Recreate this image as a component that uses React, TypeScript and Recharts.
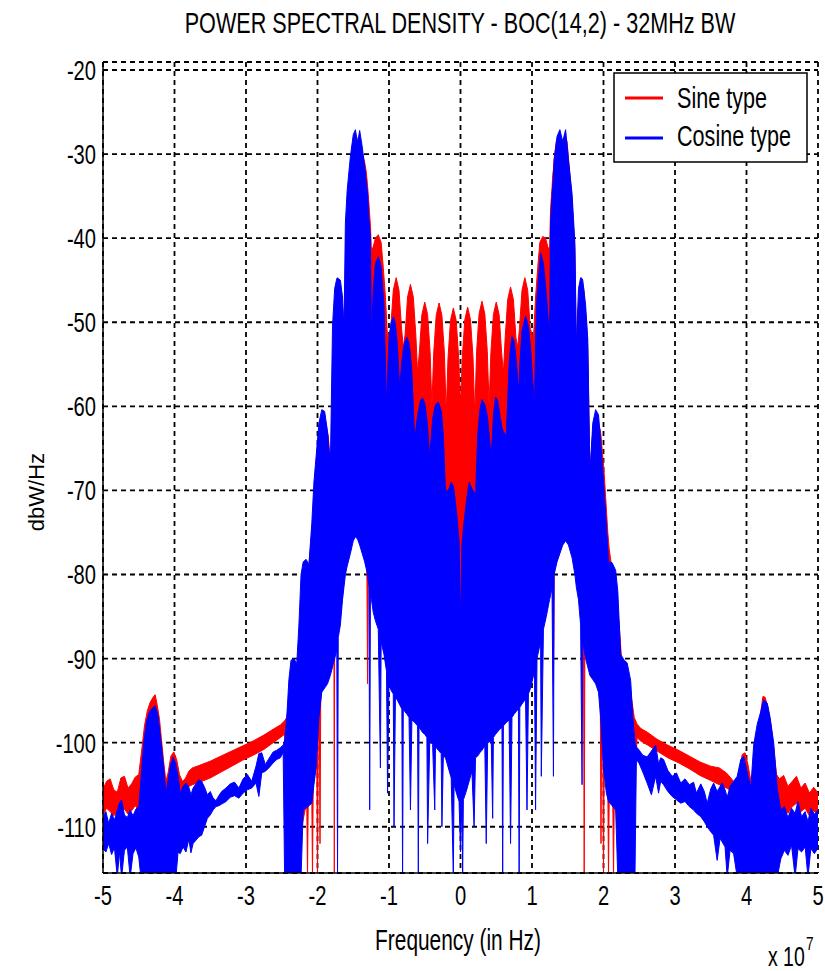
import React from 'react';
import { ComposedChart, Area, XAxis, YAxis, CartesianGrid } from 'recharts';

const FONT = "'Liberation Sans', Arial, Helvetica, sans-serif";
const SX = 0.72;

const titleText = 'POWER SPECTRAL DENSITY - BOC(14,2) - 32MHz BW';
const xLabel = 'Frequency (in Hz)';
const yLabel = 'dbW/Hz';
const xTicks = [-5, -4, -3, -2, -1, 0, 1, 2, 3, 4, 5];
const yTicks = [-110, -100, -90, -80, -70, -60, -50, -40, -30, -20];
const seriesNames = ['Sine type', 'Cosine type'];
const seriesColors = ['#ff0000', '#0000ff'];

// rows: [frequency (x1e7 Hz), upper envelope dB, lower envelope dB]
const sinePsd = [
  [-5.0, -105.5, -108.6], [-4.95, -104.6, -107.8], [-4.9, -104.3, -108.2], [-4.85, -105.6, -108.7],
  [-4.8, -105.9, -108.3], [-4.75, -104.2, -107.6], [-4.7, -104.0, -107.9], [-4.65, -105.4, -108.5],
  [-4.6, -104.9, -108.1], [-4.55, -104.1, -107.5], [-4.5, -103.8, -108.0], [-4.46, -101.0, -110],
  [-4.42, -98.0, -112], [-4.38, -96.2, -112], [-4.34, -95.2, -112], [-4.3, -94.6, -112],
  [-4.27, -94.3, -112], [-4.24, -95.6, -112], [-4.21, -97.2, -112], [-4.18, -99.8, -112],
  [-4.15, -102.4, -112], [-4.12, -104.6, -110], [-4.09, -103.6, -108], [-4.05, -101.6, -108],
  [-4.01, -101.1, -108], [-3.97, -102.0, -107], [-3.93, -103.8, -106.2], [-3.89, -104.6, -106.0],
  [-3.85, -104.3, -105.6], [-3.8, -103.4, -105.2], [-3.75, -103.0, -105.0], [-3.65, -102.7, -104.7],
  [-3.5, -102.2, -104.2], [-3.35, -101.6, -103.5], [-3.2, -101.0, -102.8], [-3.05, -100.4, -102.1],
  [-2.9, -99.8, -101.5], [-2.75, -99.1, -100.8], [-2.62, -98.4, -100.0], [-2.52, -97.9, -99.4],
  [-2.46, -97.4, -99.0], [-2.43, -97.0, -108], [-2.38, -94.0, -112], [-2.3, -91.5, -112],
  [-2.22, -87.0, -110], [-2.15, -82.0, -107], [-2.14, -81.0, -116], [-2.13, -80.0, -107],
  [-2.08, -75.0, -106], [-2.07, -74.0, -116], [-2.06, -73.0, -105], [-2.01, -67.0, -102],
  [-2.0, -66.0, -116], [-1.99, -65.0, -100], [-1.975, -63.8, -96], [-1.965, -63.2, -112],
  [-1.955, -62.6, -95], [-1.94, -62.0, -93], [-1.9, -61.5, -92.5], [-1.85, -63.5, -92],
  [-1.81, -68.0, -91], [-1.78, -53.0, -90], [-1.77, -51.0, -89.5], [-1.765, -50.0, -116],
  [-1.76, -49.0, -89], [-1.72, -46.0, -87], [-1.68, -46.5, -85], [-1.645, -48.5, -82],
  [-1.625, -52.0, -80.5], [-1.6, -39.5, -79], [-1.57, -35.5, -78], [-1.54, -31.5, -76.5],
  [-1.51, -28.8, -75], [-1.48, -28.0, -74.5], [-1.455, -29.0, -74.5], [-1.43, -28.0, -75],
  [-1.4, -28.8, -75.5], [-1.37, -30.0, -76.5], [-1.34, -31.0, -77.5], [-1.32, -32.0, -78],
  [-1.31, -32.8, -78.5], [-1.3, -33.8, -93], [-1.29, -34.8, -79.5], [-1.28, -36.0, -80],
  [-1.26, -38.5, -81.5], [-1.245, -41.5, -82], [-1.22, -41.0, -83.5], [-1.19, -40.0, -84.5],
  [-1.15, -39.6, -85.5], [-1.11, -40.5, -87], [-1.08, -43.5, -88], [-1.05, -47.0, -89],
  [-1.02, -52.0, -90],
  [-0.975, -50.7, -92], [-0.94, -46.2, -92], [-0.9, -44.7, -92], [-0.86, -46.2, -92],
  [-0.825, -50.7, -92], [-0.8, -53.0, -91], [-0.775, -51.5, -91], [-0.74, -47.0, -90],
  [-0.7, -45.5, -90], [-0.66, -47.0, -89], [-0.625, -51.5, -88.5], [-0.6, -56.0, -88],
  [-0.575, -53.6, -87.5], [-0.54, -49.1, -87], [-0.5, -47.6, -86], [-0.46, -49.1, -85.5],
  [-0.425, -53.6, -85], [-0.4, -60.0, -84.5], [-0.375, -53.7, -84], [-0.34, -49.2, -83.5],
  [-0.3, -47.7, -83], [-0.26, -49.2, -82.5], [-0.225, -53.7, -82], [-0.2, -61.0, -81.5],
  [-0.175, -54.3, -81], [-0.14, -49.8, -80.5], [-0.1, -48.3, -80], [-0.06, -49.8, -79.5],
  [-0.025, -54.3, -80], [0.0, -60.0, -88], [0.025, -54.2, -80], [0.06, -49.7, -79.5],
  [0.1, -48.2, -80], [0.14, -49.7, -80.5], [0.175, -54.2, -81], [0.2, -61.0, -81.5],
  [0.225, -53.5, -82], [0.26, -49.0, -82.5], [0.3, -47.5, -83], [0.34, -49.0, -83.5],
  [0.375, -53.5, -84], [0.4, -60.0, -84.5], [0.425, -53.6, -85], [0.46, -49.1, -85.5],
  [0.5, -47.6, -86], [0.54, -49.1, -87], [0.575, -53.6, -87.5], [0.6, -56.0, -88],
  [0.625, -51.8, -88.5], [0.66, -47.3, -89], [0.7, -45.8, -90], [0.74, -47.3, -90],
  [0.775, -51.8, -91], [0.8, -53.0, -91], [0.825, -50.7, -92], [0.86, -46.2, -92],
  [0.9, -44.7, -92], [0.94, -46.2, -92], [0.975, -50.7, -92],
  [1.02, -52.0, -90], [1.05, -47.0, -89], [1.08, -43.5, -88], [1.11, -40.5, -87],
  [1.15, -39.8, -85.5], [1.19, -40.0, -84.5], [1.22, -41.0, -83.5], [1.245, -41.5, -82],
  [1.26, -36.5, -81.5], [1.28, -34.0, -80], [1.29, -32.5, -79.5], [1.3, -31.8, -93],
  [1.31, -30.5, -79], [1.34, -28.5, -77.5], [1.37, -28.0, -76.5], [1.4, -28.3, -75.5],
  [1.43, -28.8, -75], [1.46, -28.0, -74.5], [1.49, -28.5, -74.5], [1.52, -31.5, -75],
  [1.56, -35.5, -76.5], [1.6, -41.5, -78], [1.62, -53.0, -79], [1.645, -48.5, -80.5],
  [1.68, -45.5, -82], [1.72, -45.8, -85], [1.73, -46.5, -116], [1.74, -48.0, -86],
  [1.76, -50.0, -88], [1.78, -53.0, -89], [1.81, -68.0, -90], [1.85, -63.0, -91],
  [1.89, -61.3, -91.5], [1.94, -62.5, -93], [1.955, -62.8, -95], [1.965, -63.5, -112],
  [1.975, -64.5, -96], [1.99, -66.0, -100], [2.0, -67.0, -116], [2.01, -68.0, -102],
  [2.06, -75.0, -105], [2.07, -76.0, -116], [2.08, -77.0, -106], [2.13, -80.0, -107],
  [2.14, -80.0, -116], [2.15, -80.5, -107], [2.22, -86.0, -110], [2.26, -91.0, -112],
  [2.33, -91.5, -112], [2.38, -94.0, -110], [2.43, -97.0, -106],
  [2.47, -97.8, -99.4], [2.52, -98.3, -99.8], [2.62, -98.8, -100.3], [2.75, -99.6, -101.0],
  [2.9, -100.3, -101.8], [3.05, -100.9, -102.4], [3.2, -101.6, -103.1], [3.35, -102.3, -103.9],
  [3.5, -102.8, -104.5], [3.62, -103.0, -105.0], [3.72, -103.6, -105.4], [3.8, -104.4, -105.8],
  [3.86, -105.0, -106.3], [3.9, -103.4, -107], [3.94, -101.4, -108], [3.98, -101.2, -108],
  [4.02, -102.6, -108], [4.07, -105.0, -110], [4.12, -103.0, -112], [4.16, -99.5, -112],
  [4.2, -96.3, -112], [4.23, -94.5, -112], [4.26, -94.6, -112], [4.3, -95.8, -112],
  [4.34, -97.8, -112], [4.38, -100.5, -112], [4.42, -103.8, -110], [4.46, -104.3, -108.3],
  [4.52, -103.9, -107.8], [4.58, -105.2, -108.4], [4.64, -104.6, -107.6], [4.7, -104.0, -107.2],
  [4.76, -105.4, -108.2], [4.82, -104.8, -107.8], [4.88, -106.0, -108.7], [4.94, -105.3, -108.1],
  [5.0, -106.0, -108.5],
];

const cosinePsd = [
  [-5.0, -108.8, -112.6], [-4.96, -108.2, -113.0], [-4.92, -109.6, -112.0], [-4.88, -108.4, -113.3],
  [-4.84, -109.2, -112.5], [-4.8, -108.0, -116], [-4.77, -107.2, -113.0], [-4.74, -106.8, -116],
  [-4.7, -108.6, -112.8], [-4.66, -108.9, -112.4], [-4.62, -108.0, -116], [-4.58, -108.7, -113.2],
  [-4.54, -107.9, -112.5], [-4.5, -107.6, -113.6], [-4.47, -104.5, -116], [-4.43, -100.0, -116],
  [-4.39, -97.5, -116], [-4.35, -96.3, -116], [-4.31, -95.9, -116], [-4.27, -95.6, -116],
  [-4.23, -96.8, -116], [-4.19, -99.8, -116], [-4.15, -103.0, -116], [-4.12, -106.0, -116],
  [-4.09, -104.5, -116], [-4.06, -102.8, -116], [-4.02, -101.7, -116], [-3.98, -102.6, -116],
  [-3.95, -104.0, -113.0], [-3.92, -106.0, -113.2], [-3.88, -105.2, -112.4], [-3.84, -104.8, -113.0],
  [-3.8, -105.3, -111.5], [-3.77, -106.2, -113.1], [-3.74, -105.4, -112.0], [-3.7, -104.9, -111.6],
  [-3.66, -104.4, -111.2], [-3.62, -104.6, -111.0], [-3.58, -105.3, -110.0], [-3.54, -106.2, -109.0],
  [-3.5, -105.8, -108.6], [-3.46, -106.6, -108.0], [-3.42, -106.9, -107.6], [-3.38, -106.3, -107.5],
  [-3.34, -105.8, -107.3], [-3.28, -105.4, -107.0], [-3.22, -104.9, -106.5], [-3.16, -104.7, -106.3],
  [-3.1, -105.4, -106.6], [-3.04, -104.3, -106.0], [-2.98, -103.8, -105.6], [-2.92, -104.6, -105.4],
  [-2.86, -102.8, -104.8], [-2.82, -101.3, -106.4], [-2.78, -101.2, -103.6], [-2.73, -102.6, -103.4],
  [-2.68, -101.9, -103.0], [-2.62, -101.1, -102.4], [-2.57, -100.9, -102.0], [-2.52, -100.6, -101.8],
  [-2.48, -100.3, -101.2], [-2.46, -99.8, -116], [-2.43, -97.0, -116], [-2.4, -92.5, -116],
  [-2.37, -90.2, -116], [-2.33, -90.0, -116], [-2.29, -90.6, -116], [-2.26, -86.0, -116],
  [-2.23, -80.0, -116], [-2.2, -78.5, -108.0], [-2.16, -78.2, -107.8], [-2.12, -78.8, -107.5],
  [-2.08, -74.0, -107.2], [-2.05, -69.0, -105.0], [-2.02, -66.0, -103.0], [-1.98, -62.0, -97.0],
  [-1.94, -60.4, -94.0], [-1.9, -60.6, -93.5], [-1.86, -63.0, -93.0], [-1.82, -67.0, -92.0],
  [-1.79, -50.5, -91.0], [-1.76, -46.0, -90.0], [-1.73, -44.8, -89.0], [-1.72, -44.7, -116],
  [-1.71, -44.8, -87.5], [-1.68, -45.0, -86.0], [-1.65, -47.0, -83.0], [-1.63, -51.0, -81.5],
  [-1.61, -38.2, -80.0], [-1.585, -34.3, -79.0], [-1.54, -30.3, -77.5], [-1.5, -27.7, -76.0],
  [-1.47, -27.1, -75.5], [-1.44, -28.7, -75.8], [-1.41, -27.2, -76.5], [-1.375, -29.1, -77.5],
  [-1.34, -31.5, -78.5], [-1.3, -34.7, -80.0], [-1.28, -37.8, -81.5], [-1.27, -38.8, -108],
  [-1.26, -39.8, -82.5], [-1.245, -52.0, -83.0], [-1.22, -46.0, -84.5], [-1.19, -43.0, -85.5],
  [-1.15, -42.2, -86.5], [-1.12, -43.0, -103.0], [-1.11, -43.5, -88.0], [-1.07, -48.0, -89.5],
  [-1.035, -60.0, -91.5], [-1.02, -56.0, -106], [-1.0, -52.0, -93.0], [-0.97, -50.0, -93.8],
  [-0.94, -49.4, -94.2], [-0.93, -49.6, -110.0], [-0.91, -50.2, -94.6], [-0.88, -53.0, -95.0],
  [-0.85, -58.0, -95.5], [-0.82, -54.5, -96.0], [-0.81, -54.0, -116], [-0.8, -53.2, -96.0],
  [-0.78, -52.3, -96.3], [-0.75, -51.8, -96.6], [-0.72, -52.5, -97.0], [-0.7, -53.8, -108.0],
  [-0.68, -56.0, -97.3], [-0.64, -64.0, -97.6], [-0.6, -61.0, -98.0], [-0.59, -60.6, -116],
  [-0.58, -60.2, -98.2], [-0.56, -59.3, -98.4], [-0.53, -59.0, -98.8], [-0.5, -59.6, -99.0],
  [-0.47, -61.5, -99.4], [-0.46, -62.5, -112.0], [-0.43, -66.0, -99.8], [-0.39, -61.5, -100.2],
  [-0.36, -60.2, -108.0], [-0.35, -59.8, -100.5], [-0.31, -59.5, -100.9], [-0.27, -60.5, -101.3],
  [-0.26, -61.3, -110.0], [-0.24, -63.5, -101.6], [-0.21, -70.0, -101.8], [-0.17, -70.0, -103.0],
  [-0.13, -69.0, -104.2], [-0.1, -69.5, -116], [-0.09, -70.0, -105.0], [-0.05, -73.0, -106.2],
  [-0.02, -76.0, -107.0], [0.0, -86.0, -113.0], [0.02, -76.5, -107.0], [0.03, -75.5, -116],
  [0.04, -74.5, -106.8], [0.08, -71.5, -105.8], [0.12, -69.0, -104.6], [0.16, -69.8, -103.4],
  [0.19, -70.2, -110.0], [0.21, -70.5, -101.8], [0.24, -63.5, -101.6], [0.27, -60.5, -101.2],
  [0.3, -59.2, -100.9], [0.34, -59.8, -100.4], [0.36, -60.5, -112.0], [0.38, -61.5, -100.0],
  [0.43, -66.0, -99.8], [0.45, -63.0, -109.0], [0.46, -61.0, -99.4], [0.49, -58.9, -99.0],
  [0.52, -59.3, -98.7], [0.55, -61.0, -98.4], [0.58, -62.5, -98.2], [0.59, -62.8, -116],
  [0.6, -63.0, -98.0], [0.64, -63.5, -97.6], [0.68, -55.0, -97.3], [0.7, -53.0, -112.0],
  [0.72, -51.7, -97.0], [0.75, -52.3, -96.6], [0.78, -54.5, -96.3], [0.81, -58.0, -96.0],
  [0.82, -57.0, -116], [0.83, -55.0, -95.8], [0.86, -51.0, -95.4], [0.91, -49.3, -94.8],
  [0.93, -49.8, -108.0], [0.95, -50.5, -94.2], [0.98, -53.0, -93.5], [1.035, -60.0, -91.5],
  [1.05, -52.0, -108.0], [1.07, -47.0, -90.0], [1.12, -41.8, -88.0], [1.13, -42.0, -104.0],
  [1.16, -43.0, -86.5], [1.2, -46.5, -85.0], [1.245, -52.0, -83.0], [1.26, -38.0, -82.5],
  [1.28, -35.0, -81.5], [1.3, -32.5, -104.0], [1.31, -30.7, -80.0], [1.35, -27.9, -78.5],
  [1.39, -27.1, -77.5], [1.43, -28.5, -76.5], [1.47, -27.1, -76.0], [1.51, -30.7, -76.5],
  [1.56, -34.7, -78.0], [1.6, -40.6, -80.0], [1.62, -53.0, -81.5], [1.65, -46.0, -83.0],
  [1.68, -44.7, -86.0], [1.7, -44.8, -105.0], [1.71, -45.0, -88.0], [1.75, -48.0, -90.0],
  [1.78, -52.0, -91.0], [1.81, -68.0, -92.0], [1.85, -62.0, -92.5], [1.89, -60.4, -93.0],
  [1.93, -61.0, -94.0], [1.96, -64.0, -97.0], [2.0, -69.0, -103.0], [2.04, -74.0, -106.0],
  [2.07, -78.5, -107.0], [2.12, -78.6, -107.5], [2.17, -79.5, -108.0], [2.2, -82.0, -116],
  [2.24, -89.5, -116], [2.29, -90.2, -116], [2.33, -90.5, -116], [2.38, -92.6, -116],
  [2.41, -97.0, -116], [2.44, -100.0, -116], [2.46, -100.5, -102.0],
  [2.5, -100.9, -102.5], [2.55, -101.5, -103.5], [2.61, -101.7, -104.8], [2.67, -101.0, -106.2],
  [2.73, -100.3, -104.0], [2.77, -102.5, -106.0], [2.8, -101.8, -104.6], [2.84, -102.0, -105.0],
  [2.9, -103.3, -105.8], [2.96, -104.0, -106.4], [3.02, -103.6, -106.8], [3.08, -104.8, -107.2],
  [3.14, -104.3, -107.0], [3.2, -105.0, -107.6], [3.26, -104.7, -108.0], [3.3, -106.0, -108.4],
  [3.36, -104.9, -108.8], [3.41, -105.8, -109.4], [3.45, -107.2, -110.0], [3.5, -105.5, -110.6],
  [3.54, -104.8, -111.0], [3.59, -105.8, -114.0], [3.63, -105.2, -111.4], [3.66, -104.8, -111.8],
  [3.7, -105.6, -112.4], [3.73, -106.5, -116], [3.77, -105.2, -112.8], [3.82, -104.6, -113.2],
  [3.87, -104.0, -116], [3.92, -102.0, -116], [3.96, -101.6, -116], [4.01, -103.5, -116],
  [4.06, -105.4, -116], [4.1, -100.3, -116], [4.15, -97.8, -116], [4.2, -96.3, -116],
  [4.24, -94.9, -116], [4.29, -95.3, -116], [4.33, -97.0, -116], [4.38, -100.0, -116],
  [4.43, -105.5, -116], [4.48, -108.0, -113.8], [4.53, -107.6, -112.8], [4.58, -108.9, -113.4],
  [4.63, -107.8, -112.2], [4.68, -108.4, -116], [4.72, -107.0, -112.6], [4.77, -108.8, -113.0],
  [4.82, -108.2, -112.4], [4.86, -109.4, -116], [4.9, -107.8, -112.6], [4.95, -108.5, -113.2],
  [5.0, -108.0, -112.5],
];

const toBand = (rows) => rows.map(([f, hi, lo]) => ({ f, band: [lo, hi] }));
const sineData = toBand(sinePsd);
const cosineData = toBand(cosinePsd);

const XTick = (props) => {
  const { x, y, payload } = props;
  return (
    <text transform={`translate(${x},${y + 24}) scale(${SX},1)`} textAnchor="middle"
      fontFamily={FONT} fontSize={28} fill="#000">{payload.value}</text>
  );
};

const YTick = (props) => {
  const { x, y, payload } = props;
  return (
    <text transform={`translate(${x + 1},${y + 10}) scale(${SX},1)`} textAnchor="end"
      fontFamily={FONT} fontSize={28} fill="#000">{payload.value}</text>
  );
};

const Overlay = () => (
  <svg width={825} height={971} style={{ position: 'absolute', left: 0, top: 0, pointerEvents: 'none' }}>
    <text transform={`translate(460,33) scale(${SX},1)`} textAnchor="middle" fontFamily={FONT} fontSize={30} fill="#000">{titleText}</text>
    <text transform={`translate(458,950) scale(${SX},1)`} textAnchor="middle" fontFamily={FONT} fontSize={29} fill="#000">{xLabel}</text>
    <text transform="translate(44,492) rotate(-90)" textAnchor="middle" fontFamily={FONT} fontSize={22} fill="#000">{yLabel}</text>
    <text transform={`translate(768,966) scale(${SX},1)`} fontFamily={FONT} fontSize={27} fill="#000">x 10</text>
    <text transform={`translate(806,950) scale(${SX},1)`} fontFamily={FONT} fontSize={19} fill="#000">7</text>
    <g>
      <rect x={614} y={73} width={193} height={89} fill="#fff" stroke="#000" strokeWidth={1.5} />
      {seriesNames.map((name, i) => (
        <g key={name}>
          <line x1={625} x2={663} y1={98 + i * 40} y2={98 + i * 40} stroke={seriesColors[i]} strokeWidth={3} />
          <text transform={`translate(677,${108 + i * 38}) scale(${SX},1)`} fontFamily={FONT} fontSize={30} fill="#000">{name}</text>
        </g>
      ))}
    </g>
  </svg>
);

export default function App() {
  return (
    <div style={{ position: 'absolute', left: 0, top: 0, width: 825, height: 971, background: '#fff' }}>
      <ComposedChart width={825} height={971} margin={{ top: 62, right: 7, bottom: 68, left: 43 }}>
        <CartesianGrid stroke="#000" strokeWidth={1.8} strokeDasharray="5 4" />
        <XAxis xAxisId={0} type="number" dataKey="f" domain={[-5, 5]} ticks={xTicks} allowDataOverflow
          tickLine={false} axisLine={{ stroke: '#000', strokeWidth: 1.5 }} tick={<XTick />} height={30} />
        <XAxis xAxisId="top" orientation="top" type="number" dataKey="f" domain={[-5, 5]} ticks={xTicks}
          allowDataOverflow mirror tick={false} tickLine={{ stroke: '#000', strokeWidth: 1.5 }} tickSize={6}
          axisLine={{ stroke: '#000', strokeWidth: 1.5 }} height={0} />
        <YAxis yAxisId={0} type="number" domain={[-115.5, -19.05]} ticks={yTicks} allowDataOverflow
          tickLine={false} axisLine={{ stroke: '#000', strokeWidth: 1.5 }} tick={<YTick />} width={60} />
        <YAxis yAxisId="right" orientation="right" type="number" domain={[-115.5, -19.05]} ticks={yTicks}
          allowDataOverflow mirror tick={false} tickLine={{ stroke: '#000', strokeWidth: 1.5 }} tickSize={6}
          axisLine={{ stroke: '#000', strokeWidth: 1.5 }} width={0} />
        <Area data={sineData} dataKey="band" name={seriesNames[0]} type="linear" stroke={seriesColors[0]}
          strokeWidth={1} fill={seriesColors[0]} fillOpacity={1} isAnimationActive={false} dot={false} activeDot={false} />
        <Area data={cosineData} dataKey="band" name={seriesNames[1]} type="linear" stroke={seriesColors[1]}
          strokeWidth={1} fill={seriesColors[1]} fillOpacity={1} isAnimationActive={false} dot={false} activeDot={false} />
      </ComposedChart>
      <Overlay />
    </div>
  );
}
